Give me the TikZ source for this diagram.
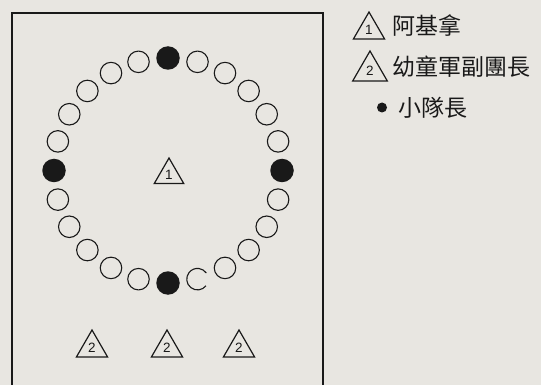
\documentclass[tikz,border=0pt]{standalone}
\usepackage{fontspec}
\newfontfamily\cjk{Noto Sans CJK TC}
\setsansfont{Liberation Sans}
\usetikzlibrary{shapes.geometric}
\definecolor{paper}{RGB}{232,230,225}
\definecolor{ink}{RGB}{25,25,25}
\tikzset{
 tri/.style={draw=ink, line width=1.2pt, regular polygon, regular polygon sides=3, minimum size=36pt, inner sep=0pt, font=\sffamily\fontsize{13.5}{13.5}\selectfont, text=ink},
 opendot/.style={draw=ink, line width=1.1pt, circle, minimum size=21.5pt, inner sep=0pt},
 blackdot/.style={fill=ink, circle, minimum size=23.5pt, inner sep=0pt},
 legtext/.style={font=\cjk\fontsize{23}{23}\selectfont, anchor=west, inner sep=0pt, text=ink},
}
\begin{document}
\begin{tikzpicture}[x=1pt,y=-1pt]
\fill[paper] (0,0) rectangle (541,385);
\useasboundingbox (0,0) rectangle (541,385);
\draw[ink, line width=1.2pt] (12,390) -- (12,13) -- (323,13) -- (323,390);
\foreach \i in {0,...,23}{
  \pgfmathsetmacro\xx{168+114*cos(90-15*\i)}
  \pgfmathsetmacro\yy{170.5-112.5*sin(90-15*\i)}
  \pgfmathtruncatemacro\m{mod(\i,6)}
  \ifnum\m=0
    \node[blackdot] (c\i) at (\xx,\yy) {};
  \else\ifnum\i=11
    \node[opendot, draw=none] (c\i) at (\xx,\yy) {};
    \draw[ink, line width=1.1pt] (c\i.center) ++(38:10.75) arc[start angle=38, end angle=325, radius=10.75];
  \else
    \node[opendot] (c\i) at (\xx,\yy) {};
  \fi\fi
}
\node[tri, minimum size=34pt] (leader) at (169,175) {1};
\node[tri] (a1) at (92,348) {2};
\node[tri] (a2) at (167,348) {2};
\node[tri] (a3) at (239,348) {2};
% legend
\node[tri, minimum size=36pt] (l1) at (369,30) {1};
\node[legtext] (t1) at (392,25.5) {阿基拿};
\node[tri, minimum size=40pt] (l2) at (370,71) {2};
\node[legtext] (t2) at (392,67) {幼童軍副團長};
\node[fill=ink, circle, minimum size=10pt, inner sep=0pt] (l3) at (382,107.5) {};
\node[legtext] (t3) at (398,107.5) {小隊長};
\end{tikzpicture}
\end{document}
